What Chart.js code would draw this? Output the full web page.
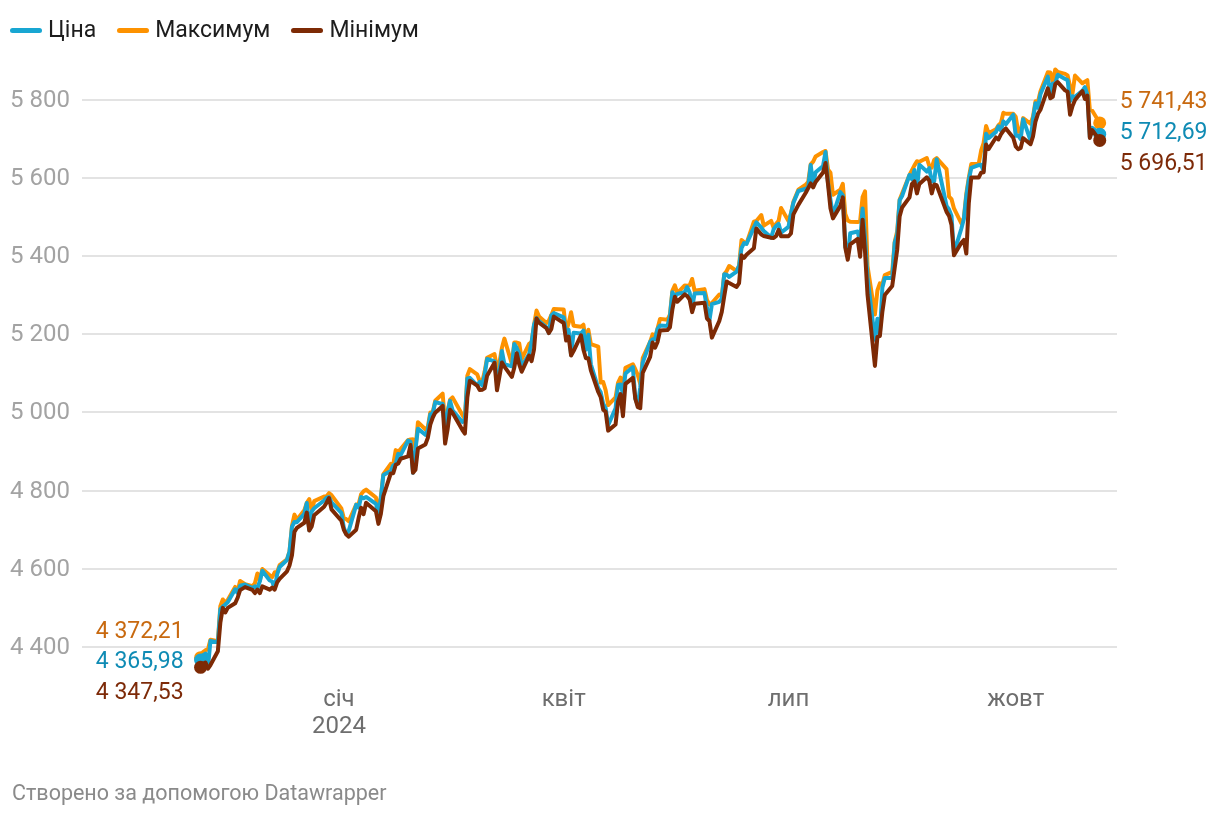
<!DOCTYPE html>
<html lang="uk">
<head>
<meta charset="utf-8">
<title>S&amp;P 500</title>
<script src="https://cdn.jsdelivr.net/npm/chart.js@4.4.1/dist/chart.umd.min.js"></script>
<style>
  html, body { margin: 0; padding: 0; background: #fff; }
  body { width: 1220px; height: 816px; position: relative; overflow: hidden; font-family: Roboto, sans-serif; }
  #wrap { position: absolute; left: 0; top: 0; width: 1220px; height: 816px; }
  .legend { position: absolute; left: 10px; top: 17px; display: flex; align-items: center; font-size: 23px; line-height: 26px; color: #1d1d1d; }
  .legend .item { display: flex; align-items: center; margin-right: 21px; }
  .legend .mark { width: 32px; height: 5px; border-radius: 3px; margin-right: 6px; }
  .footer { position: absolute; left: 12px; top: 780px; font-size: 21.5px; line-height: 25px; color: #8a8a8a; }
</style>
</head>
<body>
<div id="wrap"><canvas id="chart" width="1220" height="816"></canvas></div>
<div class="legend" id="legend"></div>
<div class="footer">Створено за допомогою Datawrapper</div>
<script>
// trading days, Nov 2023 - Nov 2024
const dates = [
  '2023-11-06','2023-11-07','2023-11-08','2023-11-09','2023-11-10','2023-11-13','2023-11-14','2023-11-15','2023-11-16','2023-11-17','2023-11-20','2023-11-21','2023-11-22','2023-11-24','2023-11-27','2023-11-28','2023-11-29','2023-11-30',
  '2023-12-01','2023-12-04','2023-12-05','2023-12-06','2023-12-07','2023-12-08','2023-12-11','2023-12-12','2023-12-13','2023-12-14','2023-12-15','2023-12-18','2023-12-19','2023-12-20','2023-12-21','2023-12-22','2023-12-26','2023-12-27','2023-12-28','2023-12-29',
  '2024-01-02','2024-01-03','2024-01-04','2024-01-05','2024-01-08','2024-01-09','2024-01-10','2024-01-11','2024-01-12','2024-01-16','2024-01-17','2024-01-18','2024-01-19','2024-01-22','2024-01-23','2024-01-24','2024-01-25','2024-01-26','2024-01-29','2024-01-30','2024-01-31',
  '2024-02-01','2024-02-02','2024-02-05','2024-02-06','2024-02-07','2024-02-08','2024-02-09','2024-02-12','2024-02-13','2024-02-14','2024-02-15','2024-02-16','2024-02-20','2024-02-21','2024-02-22','2024-02-23','2024-02-26','2024-02-27','2024-02-28','2024-02-29',
  '2024-03-01','2024-03-04','2024-03-05','2024-03-06','2024-03-07','2024-03-08','2024-03-11','2024-03-12','2024-03-13','2024-03-14','2024-03-15','2024-03-18','2024-03-19','2024-03-20','2024-03-21','2024-03-22','2024-03-25','2024-03-26','2024-03-27','2024-03-28',
  '2024-04-01','2024-04-02','2024-04-03','2024-04-04','2024-04-05','2024-04-08','2024-04-09','2024-04-10','2024-04-11','2024-04-12','2024-04-15','2024-04-16','2024-04-17','2024-04-18','2024-04-19','2024-04-22','2024-04-23','2024-04-24','2024-04-25','2024-04-26','2024-04-29','2024-04-30',
  '2024-05-01','2024-05-02','2024-05-03','2024-05-06','2024-05-07','2024-05-08','2024-05-09','2024-05-10','2024-05-13','2024-05-14','2024-05-15','2024-05-16','2024-05-17','2024-05-20','2024-05-21','2024-05-22','2024-05-23','2024-05-24','2024-05-28','2024-05-29','2024-05-30','2024-05-31',
  '2024-06-03','2024-06-04','2024-06-05','2024-06-06','2024-06-07','2024-06-10','2024-06-11','2024-06-12','2024-06-13','2024-06-14','2024-06-17','2024-06-18','2024-06-20','2024-06-21','2024-06-24','2024-06-25','2024-06-26','2024-06-27','2024-06-28',
  '2024-07-01','2024-07-02','2024-07-03','2024-07-05','2024-07-08','2024-07-09','2024-07-10','2024-07-11','2024-07-12','2024-07-15','2024-07-16','2024-07-17','2024-07-18','2024-07-19','2024-07-22','2024-07-23','2024-07-24','2024-07-25','2024-07-26','2024-07-29','2024-07-30','2024-07-31',
  '2024-08-01','2024-08-02','2024-08-05','2024-08-06','2024-08-07','2024-08-08','2024-08-09','2024-08-12','2024-08-13','2024-08-14','2024-08-15','2024-08-16','2024-08-19','2024-08-20','2024-08-21','2024-08-22','2024-08-23','2024-08-26','2024-08-27','2024-08-28','2024-08-29','2024-08-30',
  '2024-09-03','2024-09-04','2024-09-05','2024-09-06','2024-09-09','2024-09-10','2024-09-11','2024-09-12','2024-09-13','2024-09-16','2024-09-17','2024-09-18','2024-09-19','2024-09-20','2024-09-23','2024-09-24','2024-09-25','2024-09-26','2024-09-27','2024-09-30',
  '2024-10-01','2024-10-02','2024-10-03','2024-10-04','2024-10-07','2024-10-08','2024-10-09','2024-10-10','2024-10-11','2024-10-14','2024-10-15','2024-10-16','2024-10-17','2024-10-18','2024-10-21','2024-10-22','2024-10-23','2024-10-24','2024-10-25','2024-10-28','2024-10-29','2024-10-30','2024-10-31',
  '2024-11-01','2024-11-04'
];

const closes = [
  4365.98,4378.38,4382.78,4347.35,4415.24,4411.55,4495.70,4502.88,4508.24,4514.02,4547.38,4538.19,4556.62,4559.34,4550.43,4554.89,4550.58,4567.80,
  4594.63,4569.78,4567.18,4549.34,4585.59,4604.37,4622.44,4643.70,4707.09,4719.55,4719.19,4740.56,4768.37,4698.35,4746.75,4754.63,4774.75,4781.58,4783.35,4769.83,
  4742.83,4704.81,4688.68,4697.24,4763.54,4756.50,4783.45,4780.24,4783.83,4765.98,4739.21,4780.94,4839.81,4850.43,4864.60,4868.55,4894.16,4890.97,4927.93,4924.97,4845.65,
  4906.19,4958.61,4942.81,4954.23,4995.06,4997.91,5026.61,5021.84,4953.17,5000.62,5029.73,5005.57,4975.51,4981.80,5087.03,5088.80,5069.53,5078.18,5069.76,5096.27,
  5137.08,5130.95,5078.65,5104.76,5157.36,5123.69,5117.94,5175.27,5165.31,5150.48,5117.09,5149.42,5178.51,5224.62,5241.53,5234.18,5218.19,5203.58,5248.49,5254.35,
  5243.77,5205.81,5211.49,5147.21,5204.34,5202.39,5209.91,5160.64,5199.06,5123.41,5061.82,5051.41,5022.21,5011.12,4967.23,5010.60,5070.55,5071.63,5048.42,5099.96,5116.17,5035.69,
  5018.39,5064.20,5127.79,5180.74,5187.70,5187.67,5214.08,5222.68,5221.42,5246.68,5308.15,5297.10,5303.27,5308.13,5321.41,5307.01,5267.84,5304.72,5306.04,5266.95,5235.48,5277.51,
  5283.40,5291.34,5354.03,5352.96,5346.99,5360.79,5375.32,5421.03,5433.74,5431.60,5473.23,5487.03,5473.17,5464.62,5447.87,5469.30,5477.90,5482.87,5460.48,
  5475.09,5509.01,5537.02,5567.19,5572.85,5576.98,5633.91,5584.54,5615.35,5631.22,5667.20,5588.27,5544.59,5505.00,5564.41,5555.74,5427.13,5399.22,5459.10,5463.54,5436.44,5522.30,
  5446.68,5346.56,5186.33,5240.03,5199.50,5319.31,5344.16,5344.39,5434.43,5455.21,5543.22,5554.25,5608.25,5597.12,5620.85,5570.64,5634.61,5616.84,5625.80,5592.18,5591.96,5648.40,
  5528.93,5520.07,5503.41,5408.42,5471.05,5495.52,5554.13,5595.76,5626.02,5633.09,5634.58,5618.26,5713.64,5702.55,5718.57,5732.93,5722.26,5745.37,5738.17,5762.48,
  5708.75,5709.54,5699.94,5751.07,5695.94,5751.13,5792.04,5780.05,5815.03,5859.85,5815.26,5842.47,5841.47,5864.67,5853.98,5851.20,5797.42,5809.86,5808.12,5823.52,5832.92,5813.67,5705.45,
  5728.80,5712.69
];

const highs = [
  4372.21,4386.26,4391.20,4393.57,4418.03,4414.34,4504.12,4521.17,4511.99,4520.12,4553.43,4542.14,4568.43,4560.31,4555.03,4562.51,4587.64,4569.89,
  4599.39,4583.04,4578.56,4590.74,4590.92,4609.23,4623.71,4643.93,4709.69,4738.57,4725.53,4749.52,4768.69,4778.01,4748.71,4772.94,4784.72,4785.39,4793.30,4788.43,
  4754.33,4729.29,4726.78,4721.49,4764.54,4765.47,4790.80,4798.50,4802.40,4782.34,4744.23,4785.79,4842.07,4868.41,4866.48,4903.68,4898.15,4906.69,4929.31,4931.09,4931.31,
  4906.75,4975.29,4957.19,4963.03,4999.89,5000.40,5030.06,5048.39,4971.30,5002.52,5032.72,5038.70,4993.71,4983.21,5094.39,5111.06,5097.66,5080.69,5077.37,5104.99,
  5140.33,5149.67,5114.54,5127.97,5165.62,5189.26,5124.66,5179.14,5179.14,5176.85,5136.86,5175.60,5180.31,5224.62,5261.10,5246.09,5229.09,5235.16,5249.26,5264.85,
  5263.95,5208.34,5228.75,5256.59,5222.18,5219.57,5224.81,5178.43,5211.78,5175.03,5168.43,5076.68,5077.96,5056.66,5019.02,5038.84,5076.12,5089.48,5057.75,5114.62,5123.49,5110.83,
  5096.12,5073.14,5139.12,5181.00,5200.23,5191.95,5215.30,5239.66,5237.26,5250.37,5311.76,5325.49,5305.45,5325.32,5324.32,5325.86,5341.88,5311.65,5315.91,5288.31,5276.41,5280.33,
  5302.11,5297.94,5354.16,5362.35,5375.08,5362.55,5375.95,5441.93,5436.33,5432.39,5488.50,5490.38,5505.53,5478.31,5490.81,5472.88,5483.14,5490.66,5523.64,
  5490.19,5509.69,5539.27,5570.33,5583.11,5590.75,5635.39,5642.45,5655.56,5666.94,5669.67,5622.49,5614.05,5557.50,5570.36,5585.34,5508.04,5491.59,5488.32,5487.74,5489.47,5551.42,
  5566.16,5375.00,5250.89,5312.34,5330.64,5328.03,5351.88,5360.00,5436.50,5463.22,5545.00,5561.00,5608.30,5620.50,5632.68,5643.22,5641.82,5651.62,5631.18,5627.03,5646.95,5651.37,
  5623.00,5552.99,5546.30,5522.47,5484.20,5497.91,5560.41,5600.71,5636.27,5636.05,5670.81,5689.75,5733.57,5715.14,5725.36,5735.32,5741.03,5767.37,5764.91,5765.14,
  5757.26,5719.14,5718.78,5753.76,5739.34,5757.60,5796.80,5795.03,5822.13,5871.41,5870.36,5846.11,5878.46,5872.17,5866.92,5863.04,5834.85,5817.80,5862.82,5842.92,5847.19,5850.94,5775.34,
  5772.55,5741.43
];

const lows = [
  4347.53,4355.41,4359.76,4343.94,4353.34,4388.71,4461.68,4499.66,4487.83,4499.66,4511.35,4525.51,4545.05,4552.80,4545.51,4537.60,4546.32,4537.24,
  4554.71,4546.34,4551.68,4546.50,4565.22,4574.06,4593.39,4608.09,4634.44,4694.34,4704.69,4717.68,4743.72,4697.82,4708.35,4736.77,4758.45,4768.90,4780.98,4751.99,
  4722.67,4699.71,4687.53,4682.11,4699.82,4730.35,4756.20,4739.58,4768.98,4747.12,4714.82,4740.57,4785.87,4844.05,4844.37,4865.94,4869.34,4881.47,4887.40,4916.54,4845.38,
  4853.52,4907.99,4918.09,4934.88,4969.05,4987.09,4999.46,5016.83,4920.31,4956.45,5007.25,4999.52,4955.02,4946.00,5038.83,5081.46,5068.91,5057.29,5058.35,5061.89,
  5094.16,5127.18,5056.82,5092.22,5128.21,5117.50,5091.14,5114.48,5151.88,5123.30,5104.35,5145.47,5131.59,5161.69,5240.66,5229.87,5216.09,5203.42,5213.92,5245.60,
  5229.20,5184.05,5194.14,5146.06,5157.21,5197.35,5160.78,5138.70,5138.77,5107.94,5052.47,5039.00,5007.25,5001.89,4953.56,4969.40,5027.96,5047.02,4990.58,5073.14,5088.65,5035.31,
  5013.45,5011.05,5101.22,5142.42,5178.96,5165.86,5180.41,5209.68,5211.16,5217.98,5263.95,5296.19,5283.59,5302.40,5297.87,5288.85,5256.93,5278.39,5280.89,5240.53,5234.32,5191.68,
  5234.32,5257.63,5297.64,5335.36,5331.33,5321.52,5331.12,5402.51,5395.78,5403.75,5420.40,5471.32,5455.56,5452.03,5447.58,5446.56,5451.87,5467.54,5451.12,
  5451.12,5458.43,5507.42,5531.63,5562.51,5574.57,5586.44,5576.53,5590.44,5614.75,5639.02,5584.81,5522.81,5497.04,5529.04,5550.90,5422.30,5390.95,5430.70,5444.44,5398.68,5493.75,
  5410.42,5302.00,5119.26,5193.56,5195.54,5257.24,5300.62,5324.00,5370.00,5416.00,5502.00,5525.00,5550.74,5585.50,5591.57,5560.95,5585.16,5602.34,5593.48,5560.95,5583.71,5581.79,
  5513.78,5503.53,5480.39,5402.62,5434.49,5441.72,5406.96,5535.50,5601.64,5601.57,5614.05,5615.08,5686.42,5674.49,5704.22,5698.99,5712.06,5721.01,5727.22,5703.53,
  5681.28,5674.00,5677.39,5702.62,5686.85,5707.13,5745.02,5764.76,5775.09,5829.80,5804.48,5808.34,5840.25,5846.11,5824.80,5821.17,5762.41,5784.92,5799.98,5823.08,5802.70,5811.28,5703.08,
  5723.22,5696.51
];

const seriesNames = ['Ціна', 'Максимум', 'Мінімум'];
const lineColors = ['#18a6d2', '#fd9200', '#7d2a05'];
const labelColors = ['#0f8bb4', '#c8690f', '#7d2a08'];

const xTickDates = ['2024-01-01', '2024-04-01', '2024-07-01', '2024-10-01'];
const xTickLabels = [['січ', '2024'], 'квіт', 'лип', 'жовт'];
const yTicks = [4400, 4600, 4800, 5000, 5200, 5400, 5600, 5800];

const baseDay = Date.UTC(2024, 0, 1);
function dayNum(s) {
  const p = s.split('-').map(Number);
  return (Date.UTC(p[0], p[1] - 1, p[2]) - baseDay) / 86400000;
}
const xs = dates.map(dayNum);
const xTicks = xTickDates.map(dayNum);
const last = dates.length - 1;

function withSpaces(s) {
  return s.replace(/\B(?=(\d{3})+(?!\d))/g, ' ');
}
function fmtValue(v) {
  const parts = v.toFixed(2).split('.');
  return withSpaces(parts[0]) + ',' + parts[1];
}

function makeSet(i, values, order) {
  return {
    label: seriesNames[i],
    data: values.map((v, k) => ({x: xs[k], y: v})),
    borderColor: lineColors[i],
    backgroundColor: lineColors[i],
    borderWidth: 4,
    borderJoinStyle: 'round',
    borderCapStyle: 'round',
    tension: 0,
    order: order,
    pointRadius: ctx => (ctx.dataIndex === 0 || ctx.dataIndex === last) ? 6.5 : 0,
    pointBorderWidth: 0,
    pointHoverRadius: 0
  };
}

// legend
const legendEl = document.getElementById('legend');
seriesNames.forEach((name, i) => {
  const item = document.createElement('div');
  item.className = 'item';
  item.innerHTML = '<span class="mark" style="background:' + lineColors[i] + '"></span><span>' + name + '</span>';
  legendEl.appendChild(item);
});

// value labels at both ends of the lines
const endLabels = {
  id: 'endLabels',
  afterDatasetsDraw(chart) {
    const ctx = chart.ctx;
    const sx = chart.scales.x, sy = chart.scales.y;
    ctx.save();
    ctx.font = '23px Roboto';
    ctx.textBaseline = 'middle';

    const x0 = sx.getPixelForValue(xs[0]);
    const y0 = sy.getPixelForValue(closes[0]) + 2;
    ctx.textAlign = 'right';
    ctx.fillStyle = labelColors[1]; ctx.fillText(fmtValue(highs[0]), x0 - 17, y0 - 30);
    ctx.fillStyle = labelColors[0]; ctx.fillText(fmtValue(closes[0]), x0 - 17, y0);
    ctx.fillStyle = labelColors[2]; ctx.fillText(fmtValue(lows[0]), x0 - 17, y0 + 31);

    const x1 = sx.getPixelForValue(xs[last]);
    const y1 = sy.getPixelForValue(closes[last]) - 1;
    ctx.textAlign = 'left';
    ctx.fillStyle = labelColors[1]; ctx.fillText(fmtValue(highs[last]), x1 + 20, y1 - 31);
    ctx.fillStyle = labelColors[0]; ctx.fillText(fmtValue(closes[last]), x1 + 20, y1);
    ctx.fillStyle = labelColors[2]; ctx.fillText(fmtValue(lows[last]), x1 + 20, y1 + 31);
    ctx.restore();
  }
};

new Chart(document.getElementById('chart'), {
  type: 'line',
  data: {
    datasets: [
      makeSet(2, lows, 1),
      makeSet(0, closes, 2),
      makeSet(1, highs, 3)
    ]
  },
  options: {
    responsive: false,
    animation: false,
    events: [],
    layout: { padding: { top: 61, left: 0, right: 103, bottom: 66 } },
    plugins: {
      legend: { display: false },
      tooltip: { enabled: false }
    },
    scales: {
      x: {
        type: 'linear',
        min: -104,
        max: 315,
        grid: { display: false, drawTicks: false },
        border: { display: false },
        afterFit: s => { s.height = 70; },
        afterBuildTicks: s => { s.ticks = xTicks.map(v => ({value: v})); },
        ticks: {
          autoSkip: false,
          maxRotation: 0,
          padding: 6,
          color: '#6e6e6e',
          font: { family: 'Roboto', size: 24, lineHeight: 1.15 },
          callback: (v, i) => xTickLabels[i]
        }
      },
      y: {
        min: 4315,
        max: 5900,
        grid: { color: '#e3e3e3', lineWidth: 2, drawTicks: false },
        border: { display: false },
        afterFit: s => { s.width = 82; },
        afterBuildTicks: s => { s.ticks = yTicks.map(v => ({value: v})); },
        ticks: {
          padding: 12,
          labelOffset: 1,
          color: '#a3a3a3',
          font: { family: 'Roboto', size: 24 },
          callback: v => withSpaces(String(v))
        }
      }
    }
  },
  plugins: [endLabels]
});
</script>
</body>
</html>
